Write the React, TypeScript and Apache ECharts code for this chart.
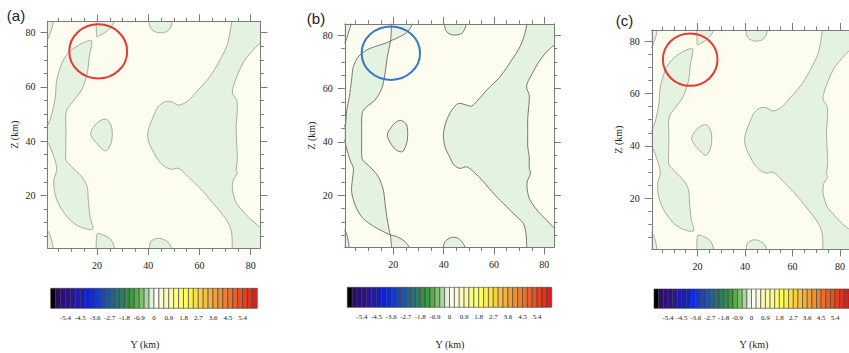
import React, { useEffect, useRef } from "react";
import * as echarts from "echarts";

// ---------- data ----------
const panelNames = ["(a)", "(b)", "(c)"];
const yAxisTitle = "Z (km)";
const xAxisTitle = "Y (km)";
const majorTicks = [20, 40, 60, 80];
const minorTicks = [5, 10, 15, 25, 30, 35, 45, 50, 55, 65, 70, 75];
const yRange = [0.7, 83.8]; // horizontal axis, Y (km)
const zRange = [0.5, 84.2]; // vertical axis, Z (km)

// Negative-value (green) contour regions, [Y km, Z km]; points beyond the range close regions at the frame
const regionsAC: number[][][] = [
  // left strip
  [[-3, 45.4], [0.5, 45.4], [3.6, 55.2], [4.3, 62.5], [6.9, 69.9], [10.1, 73.6], [14.7, 76.3], [17.9, 77.0],
   [17.0, 71.1], [16.2, 65.0], [14.0, 58.9], [10.1, 54.0], [8.2, 51.5], [7.8, 49.0], [7.9, 42.8], [7.8, 36.6],
   [7.9, 33.0], [10.1, 30.6], [14.0, 26.9], [16.2, 23.2], [16.6, 18.3], [17.3, 12.1], [18.3, 7.5], [13.4, 8.4],
   [9.5, 10.9], [5.6, 15.8], [3.6, 20.7], [3.2, 25.7], [4.3, 29.3], [3.6, 33.0], [1.7, 37.9], [0.5, 39.8], [-3, 39.8]],
  // top-left corner
  [[-3, 77.3], [0.5, 77.3], [1.7, 79.8], [2.6, 82.2], [2.9, 84.3], [3.0, 88], [-3, 88]],
  // top piece near 20
  [[19.7, 88], [19.7, 84], [19.8, 80], [19.9, 78.5], [21.5, 79.2], [23.5, 80.3], [25.3, 81.8], [26.5, 83.5], [26.9, 85], [27, 88]],
  // top piece near 45
  [[40.4, 88], [40.4, 83.5], [41.3, 81.2], [43.9, 80.0], [47.2, 80.4], [48.9, 82.2], [49.4, 84.5], [49.4, 88]],
  // small blob
  [[17.5, 42.9], [19.2, 45.9], [21.8, 47.8], [23.8, 48.0], [25.5, 45.9], [26.0, 42.9], [25.5, 39.2], [23.8, 36.5],
   [22.5, 36.7], [20.5, 38.6], [18.3, 41.0]],
  // big right region
  [[72.6, 88], [72.6, 84.3], [71.9, 79.8], [70.6, 74.8], [68.0, 69.9], [64.1, 63.8], [58.9, 58.2], [55.0, 54.5],
   [51.7, 53.3], [49.1, 54.5], [46.5, 54.5], [43.9, 52.7], [42.0, 49.0], [40.4, 45.3], [39.8, 42.3], [40.4, 39.2],
   [42.0, 36.1], [43.9, 33.0], [46.5, 30.6], [49.1, 29.6], [51.7, 30.0], [54.3, 28.1], [57.6, 25.0], [61.5, 21.4],
   [65.4, 17.0], [68.6, 13.4], [71.3, 9.7], [72.6, 6.0], [72.8, 0.4], [72.8, -3], [88, -3], [86, 6.8], [83.6, 8.4],
   [81.0, 10.3], [77.7, 13.4], [74.5, 17.0], [72.9, 22.0], [73.2, 25.7], [74.8, 28.1], [74.3, 29.3], [74.8, 33.0],
   [74.5, 40.4], [74.3, 45.3], [74.8, 51.5], [74.5, 55.2], [72.9, 57.6], [73.2, 60.1], [75.1, 65.0], [77.7, 69.9],
   [81.0, 73.6], [83.6, 76.1], [86, 78], [88, 88]],
  // bottom-left corner
  [[-3, 7.2], [0.5, 7.2], [2.3, 3.5], [2.9, 0.4], [3.0, -3], [-3, -3]],
  // bottom piece near 20
  [[19.7, -3], [19.7, 0.5], [19.8, 4.0], [20.2, 5.9], [22.5, 5.4], [24.8, 4.3], [26.2, 2.5], [26.8, 0.4], [26.9, -3]],
  // bottom piece near 45
  [[40.4, -3], [40.5, 0.5], [41.0, 2.9], [43.3, 4.1], [45.9, 3.8], [48.2, 2.3], [49.1, 0.4], [49.2, -3]],
];

const regionsB: number[][][] = [
  // left strip joined with the top and bottom pieces near 20
  [[-3, 45.7], [0.5, 45.7], [1.5, 52.0], [2.5, 56.9], [3.4, 63.2], [4.1, 68.2], [6.1, 71.9], [9.4, 74.4],
   [13.4, 75.9], [17.4, 77.1], [18.9, 77.8], [22.6, 79.4], [25.3, 80.9], [27.3, 83.7], [27.6, 88], [19.3, 88],
   [19.3, 84], [19.1, 80.6], [18.9, 77.8], [17.6, 71.9], [16.7, 65.7], [15.4, 60.0], [12.7, 55.7], [9.4, 53.2],
   [7.8, 51.3], [7.4, 48.2], [7.4, 43.2], [7.4, 35.7], [7.8, 33.2], [10.7, 30.7], [14.0, 27.0], [16.0, 22.0],
   [16.7, 17.0], [17.4, 12.0], [18.3, 7.1], [18.8, 5.2], [19.1, 2.5], [19.3, 0.2], [19.3, -3], [26.5, -3],
   [26.4, 0.2], [24.6, 2.7], [21.3, 4.6], [18.8, 5.2], [14.7, 7.1], [10.7, 9.3], [7.4, 12.0], [4.8, 16.4],
   [3.4, 21.4], [3.7, 25.8], [4.1, 30.1], [2.8, 33.2], [1.2, 38.2], [0.5, 40.7], [-3, 40.7]],
  // top-left corner
  [[-3, 76.9], [0.5, 76.9], [1.7, 79.4], [2.5, 81.9], [3.2, 84.1], [3.3, 88], [-3, 88]],
  // bottom-left corner
  [[-3, 7.1], [0.5, 7.1], [1.7, 4.6], [2.5, 0.2], [2.6, -3], [-3, -3]],
  // small blob
  [[17.6, 42.6], [19.3, 45.7], [21.3, 47.6], [23.3, 48.0], [25.3, 46.3], [25.7, 42.6], [25.3, 39.5], [23.7, 36.4],
   [21.6, 36.7], [19.3, 38.9]],
  // top piece near 45
  [[40.3, 88], [40.3, 84], [41.2, 81.2], [43.8, 80.0], [47.2, 80.6], [48.5, 82.5], [48.9, 84.2], [48.9, 88]],
  // bottom piece near 45
  [[39.9, -3], [39.9, 0.5], [40.5, 2.7], [43.2, 4.3], [45.8, 3.9], [47.8, 2.0], [48.5, 0.2], [48.5, -3]],
  // big right region
  [[73.0, 88], [73.0, 84.1], [72.3, 80.6], [70.3, 75.6], [67.0, 70.6], [62.4, 64.4], [57.1, 59.4], [53.1, 55.1],
   [51.1, 53.4], [49.1, 53.8], [45.8, 54.4], [43.2, 51.9], [41.2, 48.2], [40.1, 44.5], [39.9, 42.0], [40.5, 38.2],
   [42.3, 34.5], [44.1, 31.4], [46.5, 30.1], [49.1, 30.7], [51.8, 28.9], [55.8, 25.1], [60.4, 20.1], [65.0, 15.8],
   [69.0, 12.0], [71.6, 9.6], [72.7, 5.8], [73.0, 0.2], [73.0, -3], [88, -3], [86, 6.5], [84.0, 7.7], [80.9, 10.8],
   [77.6, 13.9], [74.3, 18.3], [73.2, 22.0], [73.2, 25.1], [74.5, 28.3], [74.0, 30.1], [74.0, 34.5], [73.4, 38.2],
   [73.4, 43.2], [73.4, 48.8], [73.8, 53.2], [74.0, 57.6], [73.0, 60.0], [73.2, 61.9], [75.6, 66.3], [78.3, 70.6],
   [81.6, 74.4], [84.0, 76.3], [86, 78], [88, 88]],
];

const panelRegions = [regionsAC, regionsB, regionsAC];

// Highlight ellipses: [centre Y km, centre Z km, radius Y km, radius Z km]
const highlightEllipses = [
  [20.5, 73.1, 11.3, 10.0],
  [19.0, 73.2, 11.6, 10.0],
  [16.9, 72.9, 11.5, 10.0],
];
const highlightColors = ["#e8392c", "#3a78c6", "#e8392c"];

const colorbarColors = [
  "#000000", "#2d0a6e", "#2e0d7e", "#2c108e", "#2a149e", "#2418b2", "#141ec8", "#0a22dc", "#0a28f0", "#1438d2",
  "#1c46bc", "#2254a6", "#266290", "#2a6e7a", "#2e7c64", "#348c4a", "#3c9c3c", "#58ae4c", "#7ec270", "#a9d79f",
  "#e2f2dc", "#fdfdf0", "#fbfbd6", "#fafabe", "#fbfba6", "#fcfc8e", "#fdfd74", "#fefe5c", "#fcef4e", "#fae046",
  "#f7d040", "#f4c040", "#f2b03e", "#f0a038", "#ee9034", "#ec8030", "#ea702c", "#e86028", "#e65024", "#e44020",
  "#e2301c", "#e02018",
];
const colorbarLabels = ["-5.4", "-4.5", "-3.6", "-2.7", "-1.8", "-0.9", "0", "0.9", "1.8", "2.7", "3.6", "4.5", "5.4"];
const colorbarLabelSlots = [3, 6, 9, 12, 15, 18, 21, 24, 27, 30, 33, 36, 39];

// ---------- layout / style ----------
const panelGrids = [
  { left: 47.5, top: 21.3, width: 212.9, height: 226.9 },
  { left: 344.8, top: 23.8, width: 209.1, height: 223.7 },
  { left: 651.75, top: 30.0, width: 207.75, height: 219.4 },
];
const barGrids = [
  { left: 50.7, top: 288.3, width: 206.6, height: 20 },
  { left: 347.3, top: 287.3, width: 204.4, height: 20 },
  { left: 654, top: 289, width: 205, height: 19.3 },
];
const panelLabelPos = [[16, 15], [316, 18], [624.5, 20]];
const xTitlePos = [[145, 344], [450, 344], [754, 344]];
const fieldPositive = "#fdfdef";
const fieldNegative = "#e4f2e0";
const contourColors = ["#9aa89a", "#6a6a6a", "#9aa89a"];
const frameColor = "#7a7a7a";
const serif = "'Liberation Serif', 'Times New Roman', serif";
const sans = "'Liberation Sans', Arial, sans-serif";

function buildOption() {
  const grid: any[] = [];
  const xAxis: any[] = [];
  const yAxis: any[] = [];
  const series: any[] = [];
  const graphic: any[] = [];

  const baseAxis = (gi: number, min: number, max: number, position: string, major: boolean, labels: boolean) => ({
    gridIndex: gi,
    type: "value",
    min,
    max,
    position,
    z: 5,
    axisLine: { show: major, onZero: false, lineStyle: { color: frameColor, width: 1 } },
    axisTick: {
      show: true,
      inside: false,
      customValues: major ? majorTicks : minorTicks,
      length: major ? 7 : 3.5,
      lineStyle: { color: frameColor, width: 1 },
    },
    axisLabel: labels
      ? { show: true, customValues: majorTicks, margin: 12, fontFamily: serif, fontSize: 10, color: "#222" }
      : { show: false },
    splitLine: { show: false },
  });

  panelGrids.forEach((g, p) => {
    grid.push({ ...g, containLabel: false, show: true, backgroundColor: fieldPositive, borderWidth: 0, z: 0 });
    const xi = xAxis.length;
    xAxis.push(baseAxis(p, yRange[0], yRange[1], "bottom", true, true));
    xAxis.push(baseAxis(p, yRange[0], yRange[1], "bottom", false, false));
    xAxis.push(baseAxis(p, yRange[0], yRange[1], "top", true, false));
    xAxis.push(baseAxis(p, yRange[0], yRange[1], "top", false, false));
    const yi = yAxis.length;
    yAxis.push({
      ...baseAxis(p, zRange[0], zRange[1], "left", true, true),
      name: yAxisTitle,
      nameLocation: "middle",
      nameGap: 28,
      nameTextStyle: { fontFamily: serif, fontSize: 10, color: "#222" },
    });
    yAxis.push(baseAxis(p, zRange[0], zRange[1], "left", false, false));
    yAxis.push(baseAxis(p, zRange[0], zRange[1], "right", true, false));
    yAxis.push(baseAxis(p, zRange[0], zRange[1], "right", false, false));

    const regions = panelRegions[p];
    const stroke = contourColors[p];
    series.push({
      type: "custom",
      xAxisIndex: xi,
      yAxisIndex: yi,
      clip: true,
      z: 2,
      silent: true,
      data: regions.map((r, i) => [i + 10, 40]),
      renderItem: (params: any, api: any) => {
        const poly = regions[params.dataIndex];
        const pts = poly.map((pt) => api.coord(pt));
        return {
          type: "polygon",
          shape: { points: pts, smooth: 0.3 },
          style: { fill: fieldNegative, stroke, lineWidth: 0.9 },
        };
      },
    });

    const ell = highlightEllipses[p];
    series.push({
      type: "custom",
      xAxisIndex: xi,
      yAxisIndex: yi,
      clip: false,
      z: 6,
      silent: true,
      data: [[ell[0], ell[1]]],
      renderItem: (params: any, api: any) => {
        const c = api.coord([ell[0], ell[1]]);
        const e = api.coord([ell[0] + ell[2], ell[1] + ell[3]]);
        return {
          type: "ellipse",
          shape: { cx: c[0], cy: c[1], rx: Math.abs(e[0] - c[0]), ry: Math.abs(c[1] - e[1]) },
          style: { fill: "none", stroke: highlightColors[p], lineWidth: 2 },
        };
      },
    });

    graphic.push({
      type: "text",
      x: panelLabelPos[p][0],
      y: panelLabelPos[p][1],
      style: { text: panelNames[p], font: `15px ${sans}`, fill: "#222", align: "center", verticalAlign: "middle" },
    });
    graphic.push({
      type: "text",
      x: xTitlePos[p][0],
      y: xTitlePos[p][1],
      style: { text: xAxisTitle, font: `10px ${serif}`, fill: "#222", align: "center", verticalAlign: "middle" },
    });
  });

  barGrids.forEach((g, p) => {
    const gi = grid.length;
    grid.push({ ...g, containLabel: false });
    const xi = xAxis.length;
    xAxis.push({
      gridIndex: gi,
      type: "value",
      min: 0,
      max: colorbarColors.length,
      axisLine: { show: false },
      axisTick: { show: false },
      splitLine: { show: false },
      axisLabel: {
        show: true,
        customValues: colorbarLabelSlots,
        formatter: (v: number) => colorbarLabels[colorbarLabelSlots.indexOf(Math.round(v))] ?? "",
        margin: 6,
        fontFamily: serif,
        fontSize: 7,
        color: "#222",
      },
    });
    const yi = yAxis.length;
    yAxis.push({ gridIndex: gi, type: "value", min: 0, max: 1, show: false });
    series.push({
      type: "custom",
      xAxisIndex: xi,
      yAxisIndex: yi,
      silent: true,
      data: colorbarColors.map((c, i) => [i, 0]),
      renderItem: (params: any, api: any) => {
        const i = params.dataIndex;
        const p0 = api.coord([i, 0]);
        const p1 = api.coord([i + 1, 1]);
        return {
          type: "rect",
          shape: { x: p0[0], y: p1[1], width: p1[0] - p0[0], height: p0[1] - p1[1] },
          style: { fill: colorbarColors[i], stroke: "#3a3a3a", lineWidth: 0.6 },
        };
      },
    });
  });

  return {
    animation: false,
    backgroundColor: "#ffffff",
    grid,
    xAxis,
    yAxis,
    series,
    graphic,
  };
}

export default function App() {
  const ref = useRef<HTMLDivElement>(null);
  useEffect(() => {
    if (!ref.current) return;
    const chart = echarts.init(ref.current, undefined, { renderer: "svg" });
    chart.setOption(buildOption());
    return () => chart.dispose();
  }, []);
  return (
    <div
      ref={ref}
      style={{ position: "fixed", left: 0, top: 0, width: 849, height: 353, background: "#fff" }}
    />
  );
}
